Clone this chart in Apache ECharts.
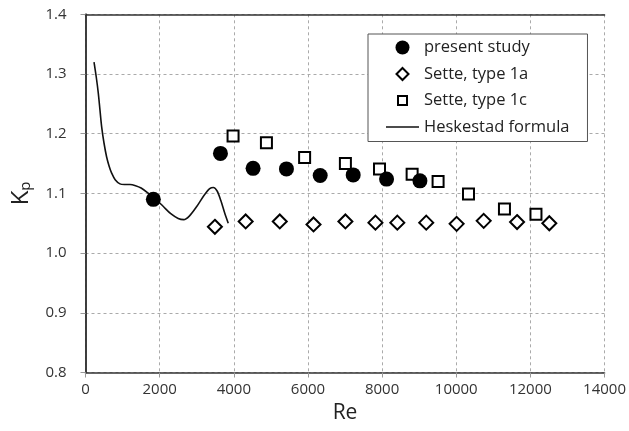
<!DOCTYPE html>
<html>
<head>
<meta charset="utf-8">
<script src="https://cdn.jsdelivr.net/npm/echarts@6/dist/echarts.min.js"></script>
<style>html,body{margin:0;padding:0;background:#fff}#c{width:629px;height:431px}</style>
</head>
<body>
<div id="c"></div>
<script>
// Data
var presentStudy = [[1830,1.090],[3640,1.167],[4520,1.142],[5420,1.141],[6330,1.130],[7220,1.131],[8120,1.124],[9020,1.121]];
var sette1a = [[3490,1.044],[4320,1.053],[5240,1.053],[6150,1.048],[7010,1.053],[7820,1.051],[8410,1.051],[9190,1.051],[10010,1.049],[10740,1.054],[11640,1.052],[12510,1.050]];
var sette1c = [[3980,1.196],[4880,1.185],[5910,1.160],[7010,1.150],[7930,1.141],[8810,1.132],[9510,1.120],[10330,1.099],[11300,1.074],[12150,1.065]];
var heskestad = [[230,1.320],[290,1.295],[345,1.268],[390,1.240],[435,1.212],[500,1.184],[570,1.161],[640,1.145],[705,1.134],[800,1.123],[930,1.116],[1050,1.115],[1200,1.115],[1350,1.113],[1500,1.109],[1700,1.100],[1900,1.090],[2100,1.078],[2300,1.066],[2500,1.058],[2650,1.056],[2800,1.062],[3000,1.078],[3200,1.097],[3350,1.108],[3450,1.110],[3550,1.104],[3650,1.088],[3750,1.068],[3850,1.050]];
var seriesNames = ['present study','Sette, type 1a','Sette, type 1c','Heskestad formula'];
var xTicks = {min:0, max:14000, interval:2000};
var yTicks = {min:0.8, max:1.4, interval:0.1};

var chart = echarts.init(document.getElementById('c'), null, {renderer:'canvas'});
var font = '"Open Sans", "Liberation Sans", sans-serif';
var frameAxis = {show:true, lineStyle:{color:'#333', width:1.5}};
// legend icon shapes (33x14 boxes so they keep their aspect)
var iconDiamond = 'path://M0,0M33,14M16.5,1L22.5,7L16.5,13L10.5,7Z';
var iconSquare = 'path://M0,0M33,14M12,2.5L21,2.5L21,11.5L12,11.5Z';
var iconLine = 'path://M0,0M33,14M0,6.3L33,6.3L33,7.7L0,7.7Z';
chart.setOption({
  animation:false,
  backgroundColor:'#fff',
  textStyle:{fontFamily:font},
  grid:{left:85.5, right:23.5, top:14.3, bottom:58.5},
  legend:{
    orient:'vertical', left:368, top:34,
    backgroundColor:'#fff', borderColor:'#555', borderWidth:1,
    padding:[5,18,6,17], itemGap:9.5, itemWidth:33, itemHeight:14,
    symbolKeepAspect:true,
    textStyle:{fontSize:16.5, color:'#222', fontFamily:font},
    data:[
      {name:seriesNames[0], icon:'circle', itemStyle:{color:'#000', borderWidth:0}},
      {name:seriesNames[1], icon:iconDiamond, itemStyle:{color:'#fff', borderColor:'#000', borderWidth:2}},
      {name:seriesNames[2], icon:iconSquare, itemStyle:{color:'#fff', borderColor:'#000', borderWidth:2}},
      {name:seriesNames[3], icon:iconLine, itemStyle:{color:'#111', borderWidth:0}}
    ]
  },
  xAxis:[{
    type:'value', min:xTicks.min, max:xTicks.max, interval:xTicks.interval,
    name:'Re', nameLocation:'middle', nameGap:30,
    nameTextStyle:{fontSize:21, color:'#222', fontFamily:font},
    axisLine:frameAxis,
    axisTick:{show:true, length:5, lineStyle:{color:'#999'}},
    axisLabel:{fontSize:15, color:'#333', margin:10, formatter:function(v){return String(v);}},
    splitLine:{show:true, lineStyle:{color:'#aaa', type:[3,3], width:1}}
  },{
    type:'value', position:'top', min:xTicks.min, max:xTicks.max, interval:xTicks.interval,
    axisLine:frameAxis, axisTick:{show:false}, axisLabel:{show:false}, splitLine:{show:false}
  }],
  yAxis:[{
    type:'value', min:yTicks.min, max:yTicks.max, interval:yTicks.interval,
    name:'{k|K}{p|p}', nameLocation:'middle', nameGap:52,
    nameTextStyle:{color:'#222', fontFamily:font, rich:{k:{fontSize:24, fontFamily:font, color:'#222'}, p:{fontSize:15, fontFamily:font, color:'#222', verticalAlign:'bottom', padding:[10,0,0,0]}}},
    axisLine:frameAxis,
    axisTick:{show:true, length:5, lineStyle:{color:'#999'}},
    axisLabel:{fontSize:15, color:'#333', margin:19, formatter:function(v){return v.toFixed(1);}},
    splitLine:{show:true, lineStyle:{color:'#aaa', type:[3,3], width:1}}
  },{
    type:'value', position:'right', min:yTicks.min, max:yTicks.max, interval:yTicks.interval,
    axisLine:frameAxis, axisTick:{show:false}, axisLabel:{show:false}, splitLine:{show:false}
  }],
  series:[
    {name:seriesNames[0], type:'scatter', data:presentStudy, symbol:'circle', symbolSize:15,
      itemStyle:{color:'#000', borderColor:'#000', borderWidth:0, opacity:1}, z:5},
    {name:seriesNames[1], type:'scatter', data:sette1a, symbol:'diamond', symbolSize:14,
      itemStyle:{color:'#fff', borderColor:'#000', borderWidth:2, opacity:1}, z:4},
    {name:seriesNames[2], type:'scatter', data:sette1c, symbol:'rect', symbolSize:11,
      itemStyle:{color:'#fff', borderColor:'#000', borderWidth:2, opacity:1}, z:4},
    {name:seriesNames[3], type:'line', data:heskestad, smooth:0.3, symbol:'none', showSymbol:false,
      lineStyle:{color:'#111', width:1.6}, itemStyle:{color:'#111'}, z:3}
  ]
});
</script>
</body>
</html>
